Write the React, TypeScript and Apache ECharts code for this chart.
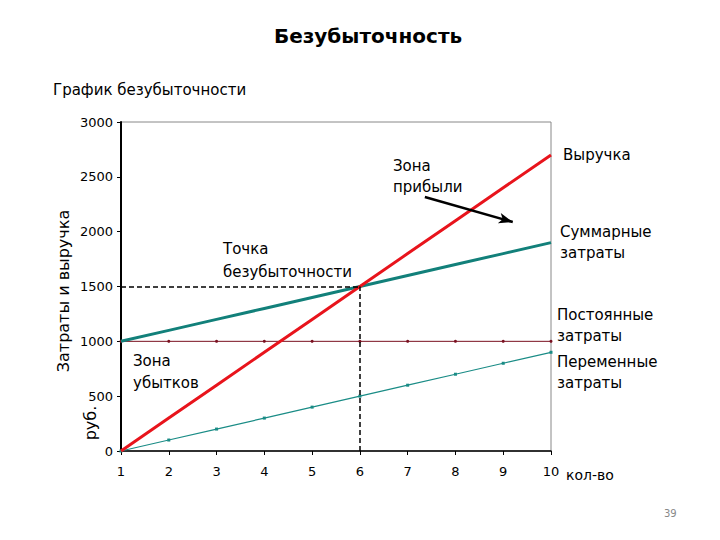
import React, { useEffect, useRef } from "react";
import * as echarts from "echarts";

const quantities = [1, 2, 3, 4, 5, 6, 7, 8, 9, 10];
const revenue = [0, 300, 600, 900, 1200, 1500, 1800, 2100, 2400, 2700];
const totalCosts = [1000, 1100, 1200, 1300, 1400, 1500, 1600, 1700, 1800, 1900];
const fixedCosts = [1000, 1000, 1000, 1000, 1000, 1000, 1000, 1000, 1000, 1000];
const variableCosts = [0, 100, 200, 300, 400, 500, 600, 700, 800, 900];
const breakEven = [6, 1500];
const profitArrow = [[7.36, 2316], [9.2, 2088]];

const pair = (ys: number[]) => quantities.map((x, i) => [x, ys[i]]);

const FONT = "DejaVu Sans";

export default function App() {
  const ref = useRef<HTMLDivElement>(null);
  useEffect(() => {
    document.body.style.margin = "0";
    const chart = echarts.init(ref.current!, null, { renderer: "svg" });
    const txt = (text: string, x: number, y: number, size = 15, extra: any = {}) => ({
      type: "text",
      x,
      y,
      style: { text, fill: "#000", font: `${size}px "${FONT}"`, ...extra },
    });
    chart.setOption({
      animation: false,
      backgroundColor: "#fff",
      grid: {
        left: 121,
        top: 122,
        right: 169,
        bottom: 89,
        show: true,
        borderColor: "#888",
        borderWidth: 1,
      },
      xAxis: {
        type: "value",
        min: 1,
        max: 10,
        interval: 1,
        axisLine: { lineStyle: { color: "#000", width: 1.5 } },
        axisTick: { show: true, inside: false, length: 4, lineStyle: { color: "#000" } },
        axisLabel: { color: "#000", fontFamily: FONT, fontSize: 13, margin: 14 },
        splitLine: { show: false },
      },
      yAxis: {
        type: "value",
        min: 0,
        max: 3000,
        interval: 500,
        axisLine: { show: true, lineStyle: { color: "#000", width: 2 } },
        axisTick: { show: true, length: 4, lineStyle: { color: "#000" } },
        axisLabel: {
          color: "#000",
          fontFamily: FONT,
          fontSize: 13,
          margin: 8,
          formatter: (v: number) => String(v),
        },
        splitLine: { show: false },
      },
      series: [
        {
          name: "Постоянные затраты",
          type: "line",
          data: pair(fixedCosts),
          symbol: "circle",
          symbolSize: 3,
          showSymbol: true,
          itemStyle: { color: "#7a1020" },
          lineStyle: { color: "#7a1020", width: 1 },
          z: 2,
        },
        {
          name: "Переменные затраты",
          type: "line",
          data: pair(variableCosts),
          symbol: "rect",
          symbolSize: 3,
          itemStyle: { color: "#1a8c86" },
          lineStyle: { color: "#1a8c86", width: 1.2 },
          z: 2,
        },
        {
          name: "Суммарные затраты",
          type: "line",
          data: pair(totalCosts),
          symbol: "none",
          lineStyle: { color: "#12807a", width: 3 },
          z: 3,
        },
        {
          name: "Выручка",
          type: "line",
          data: pair(revenue),
          symbol: "none",
          lineStyle: { color: "#e8141c", width: 3 },
          z: 4,
          markLine: {
            silent: true,
            symbol: "none",
            label: { show: false },
            lineStyle: { color: "#000", type: [5, 3], width: 1.5 },
            data: [
              [{ coord: [1, breakEven[1]] }, { coord: [breakEven[0], breakEven[1]] }],
              [{ coord: [breakEven[0], 0] }, { coord: [breakEven[0], breakEven[1]] }],
            ],
          },
        },
        {
          name: "arrow",
          type: "line",
          data: [],
          markLine: {
            silent: true,
            symbol: ["none", "arrow"],
            symbolSize: [8, 14],
            label: { show: false },
            lineStyle: { color: "#000", type: "solid", width: 2.5 },
            data: [[{ coord: profitArrow[0] }, { coord: profitArrow[1] }]],
          },
          z: 5,
        },
      ],
      graphic: [
        {
          type: "text",
          x: 368,
          y: 36,
          style: {
            text: "Безубыточность",
            fill: "#000",
            font: `bold 20px "${FONT}"`,
            textAlign: "center",
            textVerticalAlign: "middle",
          },
        },
        txt("График безубыточности", 53, 82, 15),
        {
          type: "text",
          x: 63,
          y: 291,
          rotation: Math.PI / 2,
          style: {
            text: "Затраты и выручка",
            fill: "#000",
            font: `16px "${FONT}"`,
            textAlign: "center",
            textVerticalAlign: "middle",
          },
        },
        {
          type: "text",
          x: 90,
          y: 423,
          rotation: Math.PI / 2,
          style: {
            text: "руб.",
            fill: "#000",
            font: `16px "${FONT}"`,
            textAlign: "center",
            textVerticalAlign: "middle",
          },
        },
        txt("Выручка", 563, 147),
        txt("Суммарные", 560, 224),
        txt("затраты", 560, 245),
        txt("Постоянные", 557, 307),
        txt("затраты", 557, 328),
        txt("Переменные", 557, 354),
        txt("затраты", 557, 375),
        txt("Зона", 393, 158),
        txt("прибыли", 393, 179),
        txt("Точка", 223, 241),
        txt("безубыточности", 223, 264),
        txt("Зона", 133, 353),
        txt("убытков", 133, 375),
        txt("кол-во", 566, 468, 14),
        txt("39", 664, 508, 10, { fill: "#888" }),
      ],
    });
    return () => chart.dispose();
  }, []);
  return <div ref={ref} style={{ width: 720, height: 540 }} />;
}
